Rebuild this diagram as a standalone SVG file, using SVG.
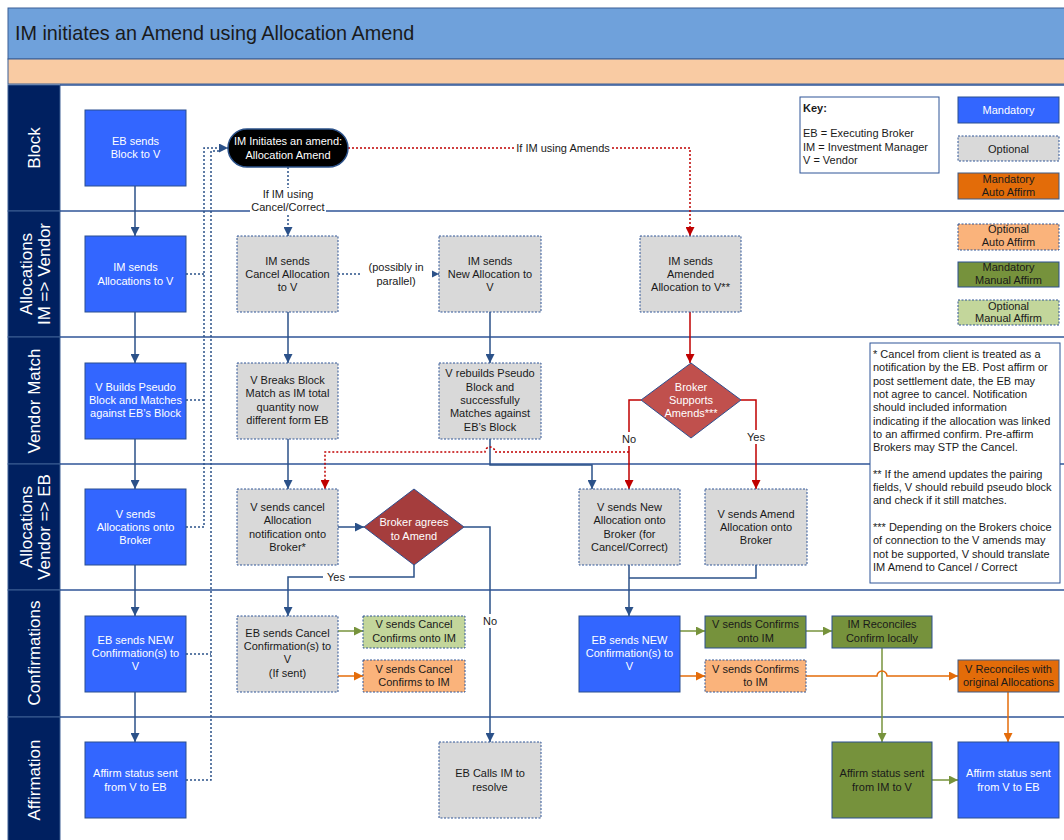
<svg xmlns="http://www.w3.org/2000/svg" width="1064" height="840" viewBox="0 0 1064 840">
<defs>
<style>
text{font-family:"Liberation Sans",Arial,sans-serif;font-size:11px;fill:#1a1a1a}
.w{fill:#ffffff}
.c{text-anchor:middle}
.lane{font-size:17px;fill:#ffffff;text-anchor:middle}
.mand{fill:#3366ff;stroke:#2a4f8f;stroke-width:1}
.opt{fill:#d9d9d9;stroke:#2f5597;stroke-width:1;stroke-dasharray:2 1.5}
.olive{fill:#76923c;stroke:#2a4f8f;stroke-width:1}
.lgreen{fill:#c3d69b;stroke:#2f5597;stroke-width:1;stroke-dasharray:2 1.5}
.lorange{fill:#fab37b;stroke:#2f5597;stroke-width:1;stroke-dasharray:2 1.5}
.dorange{fill:#e36c09;stroke:#3f5a85;stroke-width:1}
.sep{stroke:#2f5597;stroke-width:1.5}
.b{fill:none;stroke:#2b5189;stroke-width:1.5}
.bd{fill:none;stroke:#2b5189;stroke-width:1.5;stroke-dasharray:2 2}
.r{fill:none;stroke:#c00000;stroke-width:1.5}
.rd{fill:none;stroke:#c00000;stroke-width:1.5;stroke-dasharray:2 2}
.g{fill:none;stroke:#77933c;stroke-width:1.5}
.o{fill:none;stroke:#e46c0a;stroke-width:1.5}
</style>
<marker id="ab" viewBox="0 0 10 10" refX="10" refY="5" markerWidth="9" markerHeight="9" markerUnits="userSpaceOnUse" orient="auto"><path d="M0,0 L10,5 L0,10 z" fill="#2b5189"/></marker>
<marker id="ar" viewBox="0 0 10 10" refX="10" refY="5" markerWidth="9" markerHeight="9" markerUnits="userSpaceOnUse" orient="auto"><path d="M0,0 L10,5 L0,10 z" fill="#c00000"/></marker>
<marker id="ag" viewBox="0 0 10 10" refX="10" refY="5" markerWidth="9" markerHeight="9" markerUnits="userSpaceOnUse" orient="auto"><path d="M0,0 L10,5 L0,10 z" fill="#77933c"/></marker>
<marker id="ao" viewBox="0 0 10 10" refX="10" refY="5" markerWidth="9" markerHeight="9" markerUnits="userSpaceOnUse" orient="auto"><path d="M0,0 L10,5 L0,10 z" fill="#e46c0a"/></marker>
</defs>
<rect width="1064" height="840" fill="#ffffff"/>
<!-- header -->
<g id="header">
<rect x="8" y="8" width="1070" height="51" fill="#6fa1db" stroke="#3a5f95" stroke-width="1"/>
<text x="15" y="40" style="font-size:19.8px">IM initiates an Amend using Allocation Amend</text>
<rect x="8" y="59" width="1070" height="25" fill="#f9cba3" stroke="#3a5f95" stroke-width="1"/>
</g>
<!-- lanes -->
<g id="lanes">
<rect x="8" y="85" width="52" height="126" fill="#002060" stroke="#3d5f93" stroke-width="1"/>
<rect x="8" y="211" width="52" height="126" fill="#002060" stroke="#3d5f93" stroke-width="1"/>
<rect x="8" y="337" width="52" height="127" fill="#002060" stroke="#3d5f93" stroke-width="1"/>
<rect x="8" y="464" width="52" height="126" fill="#002060" stroke="#3d5f93" stroke-width="1"/>
<rect x="8" y="590" width="52" height="127" fill="#002060" stroke="#3d5f93" stroke-width="1"/>
<rect x="8" y="717" width="52" height="130" fill="#002060" stroke="#3d5f93" stroke-width="1"/>
<line class="sep" x1="60" y1="85" x2="1064" y2="85"/>
<line class="sep" x1="60" y1="211" x2="1064" y2="211"/>
<line class="sep" x1="60" y1="337" x2="1064" y2="337"/>
<line class="sep" x1="60" y1="464" x2="1064" y2="464"/>
<line class="sep" x1="60" y1="590" x2="1064" y2="590"/>
<line class="sep" x1="60" y1="717" x2="1064" y2="717"/>
<text class="lane" transform="translate(40,148) rotate(-90)">Block</text>
<text class="lane" transform="translate(32,274) rotate(-90)">Allocations</text>
<text class="lane" transform="translate(50,274) rotate(-90)">IM =&gt; Vendor</text>
<text class="lane" transform="translate(40,401) rotate(-90)">Vendor Match</text>
<text class="lane" transform="translate(32,527) rotate(-90)">Allocations</text>
<text class="lane" transform="translate(50,527) rotate(-90)">Vendor =&gt; EB</text>
<text class="lane" transform="translate(40,653) rotate(-90)">Confirmations</text>
<text class="lane" transform="translate(40,780) rotate(-90)">Affirmation</text>
</g>
<!-- connectors -->
<g id="connectors">
<path class="b" d="M135,186 V236" marker-end="url(#ab)"/>
<path class="b" d="M135,312 V363" marker-end="url(#ab)"/>
<path class="b" d="M135,439 V489" marker-end="url(#ab)"/>
<path class="b" d="M135,565 V616" marker-end="url(#ab)"/>
<path class="b" d="M135,692 V742" marker-end="url(#ab)"/>
<path class="b" d="M288,312 V363" marker-end="url(#ab)"/>
<path class="b" d="M490,312 V363" marker-end="url(#ab)"/>
<path class="b" d="M288,439 V489" marker-end="url(#ab)"/>
<path class="b" d="M490,439 V465 H592 V489" marker-end="url(#ab)"/>
<path class="b" d="M338,527 H364" marker-end="url(#ab)"/>
<path class="b" d="M414,565 V577 H288 V616" marker-end="url(#ab)"/>
<path class="b" d="M464,527 H490 V742" marker-end="url(#ab)"/>
<path class="b" d="M629,565 V616" marker-end="url(#ab)"/>
<path class="b" d="M756,565 V578 H629"/>
<path class="bd" d="M288,167 V236" marker-end="url(#ab)"/>
<path class="bd" d="M338,274 H439" marker-end="url(#ab)"/>
<path class="bd" d="M186,274 H204 M186,400 H204 M186,527 H204 V148 H228" marker-end="url(#ab)"/>
<path class="bd" d="M186,654 H211 M186,780 H211 V151 H220"/>
<path class="r" d="M690,312 V363" marker-end="url(#ar)"/>
<path class="r" d="M641,400 H629 V489" marker-end="url(#ar)"/>
<path class="r" d="M741,400 H756 V489" marker-end="url(#ar)"/>
<path class="rd" d="M348,148 H690 V236" marker-end="url(#ar)"/>
<path class="rd" d="M629,452 H495 a5,5 0 0 0 -10,0 H325 V489" marker-end="url(#ar)"/>
<path class="g" d="M338,631 H363" marker-end="url(#ag)"/>
<path class="g" d="M680,631 H705" marker-end="url(#ag)"/>
<path class="g" d="M806,631 H832" marker-end="url(#ag)"/>
<path class="g" d="M882,648 V742" marker-end="url(#ag)"/>
<path class="g" d="M932,780 H958" marker-end="url(#ag)"/>
<path class="o" d="M338,676 H363" marker-end="url(#ao)"/>
<path class="o" d="M680,676 H705" marker-end="url(#ao)"/>
<path class="o" d="M806,676 H877 a5,5 0 0 1 10,0 H958" marker-end="url(#ao)"/>
<path class="o" d="M1008,692 V742" marker-end="url(#ao)"/>
<rect x="250" y="188" width="76" height="26" fill="#ffffff"/>
<text class="c" x="288" y="198">If IM using</text>
<text class="c" x="288" y="211">Cancel/Correct</text>
<rect x="360" y="262" width="72" height="26" fill="#ffffff"/>
<text class="c" x="396" y="271">(possibly in</text>
<text class="c" x="396" y="285">parallel)</text>
<rect x="514" y="141" width="98" height="14" fill="#ffffff"/>
<text class="c" x="563" y="152">If IM using Amends</text>
<rect x="618" y="432" width="22" height="14" fill="#ffffff"/>
<text class="c" x="629" y="443">No</text>
<rect x="744" y="430" width="24" height="14" fill="#ffffff"/>
<text class="c" x="756" y="441">Yes</text>
<rect x="323" y="571" width="26" height="13" fill="#ffffff"/>
<text class="c" x="336" y="581">Yes</text>
<rect x="480" y="614" width="20" height="14" fill="#ffffff"/>
<text class="c" x="490" y="625">No</text>
</g>
<!-- nodes -->
<g id="n-eb-block"><rect class="mand" x="85" y="110" width="101" height="76"/><text class="c w" x="135.5" y="144.9">EB sends<tspan x="135.5" y="158.2">Block to V</tspan></text></g>
<g id="n-im-alloc"><rect class="mand" x="85" y="236" width="101" height="76"/><text class="c w" x="135.5" y="271.4">IM sends<tspan x="135.5" y="284.7">Allocations to V</tspan></text></g>
<g id="n-v-builds"><rect class="mand" x="85" y="363" width="101" height="76"/><text class="c w" x="135.5" y="390.7">V Builds Pseudo<tspan x="135.5" y="404">Block and Matches</tspan><tspan x="135.5" y="417.3">against EB’s Block</tspan></text></g>
<g id="n-v-sends-alloc"><rect class="mand" x="85" y="489" width="101" height="76"/><text class="c w" x="135.5" y="517.7">V sends<tspan x="135.5" y="531">Allocations onto</tspan><tspan x="135.5" y="544.3">Broker</tspan></text></g>
<g id="n-eb-new-conf-1"><rect class="mand" x="85" y="616" width="101" height="76"/><text class="c w" x="135.5" y="643.7">EB sends NEW<tspan x="135.5" y="657">Confirmation(s) to</tspan><tspan x="135.5" y="670.3">V</tspan></text></g>
<g id="n-affirm-v-eb-1"><rect class="mand" x="85" y="742" width="101" height="76"/><text class="c w" x="135.5" y="777.4">Affirm status sent<tspan x="135.5" y="790.7">from V to EB</tspan></text></g>
<g id="n-im-initiates"><rect x="228" y="129" width="120" height="38" rx="19" fill="#000000" stroke="#2b5189" stroke-width="1.5"/><text class="c w" x="288" y="145.4">IM Initiates an amend:<tspan x="288" y="158.7">Allocation Amend</tspan></text></g>
<g id="n-im-cancel"><rect class="opt" x="237" y="236" width="101" height="76"/><text class="c" x="287.5" y="264.7">IM sends<tspan x="287.5" y="278">Cancel Allocation</tspan><tspan x="287.5" y="291.3">to V</tspan></text></g>
<g id="n-im-new"><rect class="opt" x="439" y="236" width="102" height="76"/><text class="c" x="490" y="264.7">IM sends<tspan x="490" y="278">New Allocation to</tspan><tspan x="490" y="291.3">V</tspan></text></g>
<g id="n-im-amended"><rect class="opt" x="640" y="236" width="101" height="76"/><text class="c" x="690.5" y="264.7">IM sends<tspan x="690.5" y="278">Amended</tspan><tspan x="690.5" y="291.3">Allocation to V**</tspan></text></g>
<g id="n-v-breaks"><rect class="opt" x="237" y="363" width="101" height="76"/><text class="c" x="287.5" y="384.1">V Breaks Block<tspan x="287.5" y="397.4">Match as IM total</tspan><tspan x="287.5" y="410.7">quantity now</tspan><tspan x="287.5" y="424">different form EB</tspan></text></g>
<g id="n-v-rebuilds"><rect class="opt" x="439" y="363" width="102" height="76"/><text class="c" x="490" y="377.4">V rebuilds Pseudo<tspan x="490" y="390.7">Block and</tspan><tspan x="490" y="404">successfully</tspan><tspan x="490" y="417.3">Matches against</tspan><tspan x="490" y="430.6">EB’s Block</tspan></text></g>
<g id="n-broker-supports"><path d="M691,363 L741,400 L691,438 L641,400 z" fill="#c0504d" stroke="#2f4f8f" stroke-width="1"/><text class="c w" x="691" y="390.7">Broker<tspan x="691" y="404">Supports</tspan><tspan x="691" y="417.3">Amends***</tspan></text></g>
<g id="n-v-cancel-notif"><rect class="opt" x="237" y="489" width="101" height="76"/><text class="c" x="287.5" y="511.1">V sends cancel<tspan x="287.5" y="524.4">Allocation</tspan><tspan x="287.5" y="537.7">notification onto</tspan><tspan x="287.5" y="551">Broker*</tspan></text></g>
<g id="n-broker-agrees"><path d="M414,489 L464,527 L414,565 L364,527 z" fill="#a53d3d" stroke="#2f4f8f" stroke-width="1"/><text class="c w" x="414" y="526.4">Broker agrees<tspan x="414" y="539.7">to Amend</tspan></text></g>
<g id="n-v-new-alloc"><rect class="opt" x="579" y="489" width="101" height="76"/><text class="c" x="629.5" y="511.1">V sends New<tspan x="629.5" y="524.4">Allocation onto</tspan><tspan x="629.5" y="537.7">Broker (for</tspan><tspan x="629.5" y="551">Cancel/Correct)</tspan></text></g>
<g id="n-v-amend-alloc"><rect class="opt" x="705" y="489" width="102" height="76"/><text class="c" x="756" y="517.7">V sends Amend<tspan x="756" y="531">Allocation onto</tspan><tspan x="756" y="544.3">Broker</tspan></text></g>
<g id="n-eb-cancel-conf"><rect class="opt" x="237" y="616" width="101" height="76"/><text class="c" x="287.5" y="636.6">EB sends Cancel<tspan x="287.5" y="649.9">Confirmation(s) to</tspan><tspan x="287.5" y="663.2">V</tspan><tspan x="287.5" y="676.5">(If sent)</tspan></text></g>
<g id="n-v-cancel-onto-im"><rect class="lgreen" x="363" y="616" width="102" height="32"/><text class="c" x="414" y="628.4">V sends Cancel<tspan x="414" y="641.7">Confirms onto IM</tspan></text></g>
<g id="n-v-cancel-to-im"><rect class="lorange" x="363" y="660" width="102" height="32"/><text class="c" x="414" y="672.9">V sends Cancel<tspan x="414" y="686.2">Confirms to IM</tspan></text></g>
<g id="n-eb-calls"><rect class="opt" x="439" y="742" width="102" height="76"/><text class="c" x="490" y="777.4">EB Calls IM to<tspan x="490" y="790.7">resolve</tspan></text></g>
<g id="n-eb-new-conf-2"><rect class="mand" x="579" y="616" width="101" height="76"/><text class="c w" x="629.5" y="643.7">EB sends NEW<tspan x="629.5" y="657">Confirmation(s) to</tspan><tspan x="629.5" y="670.3">V</tspan></text></g>
<g id="n-v-confirms-onto-im"><rect class="olive" x="705" y="616" width="101" height="32"/><text class="c" x="755.5" y="628.4">V sends Confirms<tspan x="755.5" y="641.7">onto IM</tspan></text></g>
<g id="n-im-reconciles"><rect class="olive" x="832" y="616" width="100" height="32"/><text class="c" x="882" y="628.4">IM Reconciles<tspan x="882" y="641.7">Confirm locally</tspan></text></g>
<g id="n-v-confirms-to-im"><rect class="lorange" x="705" y="660" width="101" height="32"/><text class="c" x="755.5" y="672.9">V sends Confirms<tspan x="755.5" y="686.2">to IM</tspan></text></g>
<g id="n-v-reconciles"><rect class="dorange" x="958" y="660" width="101" height="32"/><text class="c" x="1008.5" y="672.9">V Reconciles with<tspan x="1008.5" y="686.2">original Allocations</tspan></text></g>
<g id="n-affirm-im-v"><rect class="olive" x="832" y="742" width="100" height="76"/><text class="c" x="882" y="777.4">Affirm status sent<tspan x="882" y="790.7">from IM to V</tspan></text></g>
<g id="n-affirm-v-eb-2"><rect class="mand" x="958" y="742" width="101" height="76"/><text class="c w" x="1008.5" y="777.4">Affirm status sent<tspan x="1008.5" y="790.7">from V to EB</tspan></text></g>
<!-- key and legend -->
<g id="key"><rect x="800" y="97" width="139" height="76" fill="#ffffff" stroke="#2f5597" stroke-width="1"/><text x="803" y="112" style="font-weight:bold">Key:</text><text x="803" y="137">EB = Executing Broker</text><text x="803" y="151">IM = Investment Manager</text><text x="803" y="164">V = Vendor</text></g>
<g id="legend-mandatory"><rect class="mand" x="958" y="97" width="101" height="26"/><text class="c w" x="1008.5" y="114">Mandatory</text></g>
<g id="legend-optional"><rect class="opt" x="958" y="136" width="101" height="25"/><text class="c" x="1008.5" y="152.5">Optional</text></g>
<g id="legend-mand-auto"><rect class="dorange" x="958" y="173" width="101" height="26"/><text class="c" x="1008.5" y="182.5">Mandatory<tspan x="1008.5" y="195.8">Auto Affirm</tspan></text></g>
<g id="legend-opt-auto"><rect class="lorange" x="958" y="224" width="101" height="26"/><text class="c" x="1008.5" y="233">Optional<tspan x="1008.5" y="246">Auto Affirm</tspan></text></g>
<g id="legend-mand-manual"><rect class="olive" x="958" y="262" width="101" height="25"/><text class="c" x="1008.5" y="271">Mandatory<tspan x="1008.5" y="284">Manual Affirm</tspan></text></g>
<g id="legend-opt-manual"><rect class="lgreen" x="958" y="300" width="101" height="25"/><text class="c" x="1008.5" y="310">Optional<tspan x="1008.5" y="322">Manual Affirm</tspan></text></g>
<g id="notes"><rect x="870" y="343" width="190" height="240" fill="#ffffff" stroke="#2f5597" stroke-width="1"/>
<text x="873" y="358">* Cancel from client is treated as a<tspan x="873" y="371.3">notification by the EB. Post affirm or</tspan><tspan x="873" y="384.6">post settlement date, the EB may</tspan><tspan x="873" y="397.9">not agree to cancel. Notification</tspan><tspan x="873" y="411.2">should included information</tspan><tspan x="873" y="424.5">indicating if the allocation was linked</tspan><tspan x="873" y="437.8">to an affirmed confirm. Pre-affirm</tspan><tspan x="873" y="451.1">Brokers may STP the Cancel.</tspan><tspan x="873" y="477.7">** If the amend updates the pairing</tspan><tspan x="873" y="491">fields, V should rebuild pseudo block</tspan><tspan x="873" y="504.3">and check if it still matches.</tspan><tspan x="873" y="530.9">*** Depending on the Brokers choice</tspan><tspan x="873" y="544.2">of connection to the V amends may</tspan><tspan x="873" y="557.5">not be supported, V should translate</tspan><tspan x="873" y="570.8">IM Amend to Cancel / Correct</tspan></text></g>
</svg>
